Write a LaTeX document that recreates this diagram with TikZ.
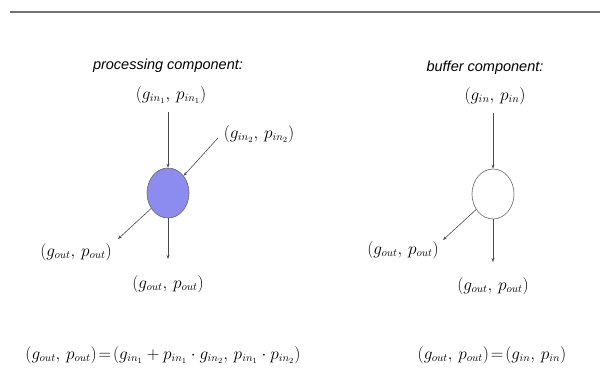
\documentclass[tikz,border=0pt]{standalone}
\usepackage{fontspec}
\setsansfont{Liberation Sans}
\usetikzlibrary{arrows.meta,shapes.geometric}
\definecolor{procblue}{RGB}{140,140,240}
\newcommand{\pr}[2]{\bigl(#1,\,#2\bigr)}
\begin{document}
\begin{tikzpicture}[x=1pt,y=-1pt,
  lbl/.style={inner sep=0pt, font=\fontsize{16}{18}\selectfont},
  title/.style={inner sep=0pt, font=\sffamily\itshape\fontsize{14.5}{16}\selectfont},
  conn/.style={draw=black!70, line width=0.6pt, -{Stealth[length=4pt,width=3pt]}},
  comp/.style={ellipse, draw=black!60, line width=0.6pt, minimum width=42pt, minimum height=50pt, inner sep=0pt}
]
\useasboundingbox (0,0) rectangle (600,379);
\fill[white] (0,0) rectangle (600,379);
\draw[black!55, line width=1.2pt] (10,12) -- (600,12);

% processing component
\node[title] (ptitle) at (168,66) {processing component:};
\node[lbl] (in1) at (171,95) {$\pr{g_{in_1}}{p_{in_1}}$};
\node[lbl] (in2) at (259,134) {$\pr{g_{in_2}}{p_{in_2}}$};
\node[comp, fill=procblue] (proc) at (168,193) {};
\node[lbl] (outL) at (76,252) {$\pr{g_{out}}{p_{out}}$};
\node[lbl] (outB) at (168,284) {$\pr{g_{out}}{p_{out}}$};
\coordinate (in2s) at (218,138);
\coordinate (outLt) at (118,239);
\draw[conn] (168,112) -- (proc.north);
\draw[conn] (in2s) -- (proc);
\draw[conn] (proc) -- (outLt);
\draw[conn] (proc.south) -- (168,259);

% buffer component
\node[title] (btitle) at (485,68) {buffer component:};
\node[lbl] (bin) at (495,96) {$\pr{g_{in}}{p_{in}}$};
\node[comp, fill=white] (buf) at (493,194) {};
\node[lbl] (boutL) at (403,250) {$\pr{g_{out}}{p_{out}}$};
\node[lbl] (boutB) at (493,286) {$\pr{g_{out}}{p_{out}}$};
\coordinate (boutLt) at (443,240);
\draw[conn] (493,113) -- (buf.north);
\draw[conn] (buf) -- (boutLt);
\draw[conn] (buf.south) -- (493,262);

% formulas
\node[lbl] (fproc) at (163,355) {$\pr{g_{out}}{p_{out}}\!=\!\bigl(g_{in_1}+p_{in_1}\cdot g_{in_2},\,p_{in_1}\cdot p_{in_2}\bigr)$};
\node[lbl] (fbuf) at (492,355) {$\pr{g_{out}}{p_{out}}\!=\!\pr{g_{in}}{p_{in}}$};
\end{tikzpicture}
\end{document}
